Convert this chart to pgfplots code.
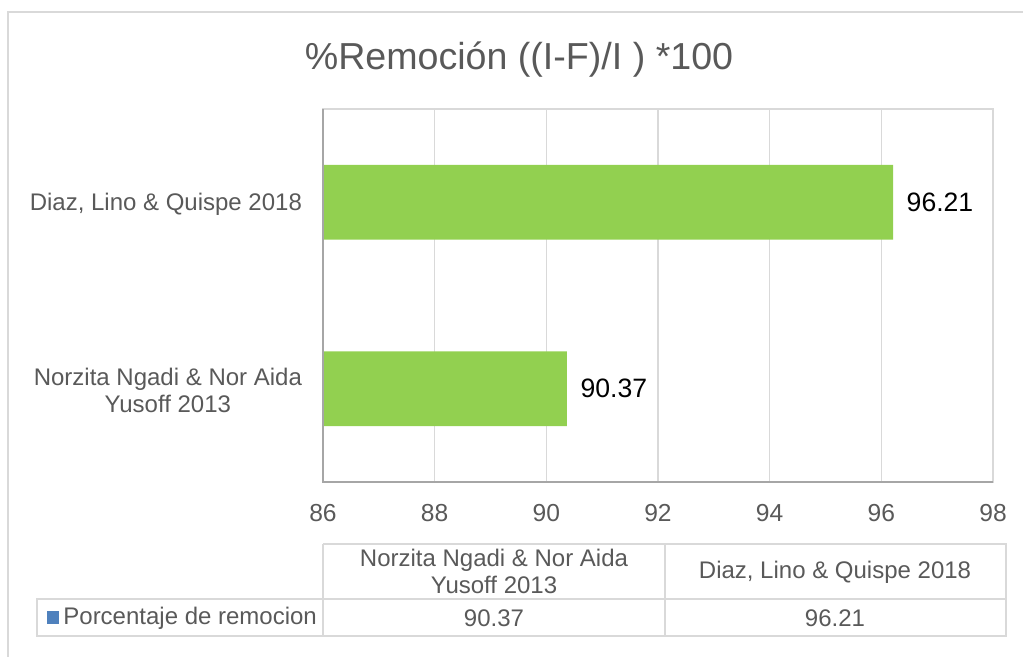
\documentclass[border=0pt]{standalone}
\usepackage{fontspec}
\setmainfont{Liberation Sans}
\usepackage{pgfplots}
\pgfplotsset{compat=1.18}
\definecolor{barGreen}{HTML}{92D050}
\definecolor{txtgray}{HTML}{595959}
\definecolor{gridgray}{HTML}{D9D9D9}
\definecolor{axisgray}{HTML}{A6A6A6}
\definecolor{tabgray}{HTML}{D9D9D9}
\definecolor{legblue}{HTML}{4F81BD}

\begin{document}
\begin{tikzpicture}
% chart frame, title, data table (pixel units, y down)
\begin{scope}[x=0.5pt,y=-0.5pt]
  \draw[gridgray, line width=1pt] (8,700) -- (8,12) -- (1100,12);
  \node[text=txtgray, font=\fontsize{18.8}{22}\selectfont] at (519,60) {\%Remoción ((I-F)/I ) *100};
  % data table
  \draw[tabgray, line width=0.8pt] (323,544) -- (1006,544) -- (1006,636) -- (37,636) -- (37,599) -- (1006,599);
  \draw[tabgray, line width=0.8pt] (323,544) -- (323,636);
  \draw[tabgray, line width=0.8pt] (665,544) -- (665,636);
  \node[text=txtgray, align=center, font=\fontsize{12}{13.5}\selectfont] at (494,571.5) {Norzita Ngadi \& Nor Aida\\Yusoff 2013};
  \node[text=txtgray, font=\fontsize{12}{13.5}\selectfont] at (835,572) {Diaz, Lino \& Quispe 2018};
  \node[text=txtgray, font=\fontsize{12}{13.5}\selectfont] at (494,618) {90.37};
  \node[text=txtgray, font=\fontsize{12}{13.5}\selectfont] at (835,618) {96.21};
  \fill[legblue] (47,611) rectangle (59,624);
  \node[text=txtgray, anchor=west, inner sep=0pt, font=\fontsize{12}{13.5}\selectfont] at (63,618) {Porcentaje de remocion};
\end{scope}

\begin{axis}[
  at={(161.5pt,-241pt)}, anchor=south west,
  scale only axis, width=335pt, height=186.5pt,
  xbar, bar width=0.4,
  xmin=86, xmax=98, ymin=-0.5, ymax=1.5,
  xtick={86,88,...,98},
  ytick={0,1},
  yticklabels={{Norzita Ngadi \& Nor Aida\\Yusoff 2013},{Diaz, Lino \& Quispe 2018}},
  yticklabel style={align=center, text=txtgray, font=\fontsize{12}{13.5}\selectfont, xshift=-7pt, yshift=-1pt},
  xticklabel style={text=txtgray, font=\fontsize{12.3}{14}\selectfont, yshift=-7.5pt},
  /pgf/number format/assume math mode=true,
  major tick length=0pt,
  xmajorgrids, grid style={gridgray, line width=0.7pt},
  axis line style={gridgray, line width=1pt},
  nodes near coords, point meta=x,
  nodes near coords style={text=black, font=\fontsize{13.3}{15}\selectfont,
    /pgf/number format/fixed, /pgf/number format/precision=2,
    /pgf/number format/fixed zerofill, /pgf/number format/assume math mode=true},
  every node near coord/.append style={xshift=3.3pt},
  after end axis/.code={
    \draw[axisgray, line width=1pt] (rel axis cs:0,1) -- (rel axis cs:0,0) -- (rel axis cs:1,0);
  },
]
\addplot[fill=barGreen, draw=none] coordinates {(90.37,0) (96.21,1)};
\end{axis}

\pgfresetboundingbox
\path (0,0) rectangle (511.5pt,-328.5pt);
\end{tikzpicture}
\end{document}
